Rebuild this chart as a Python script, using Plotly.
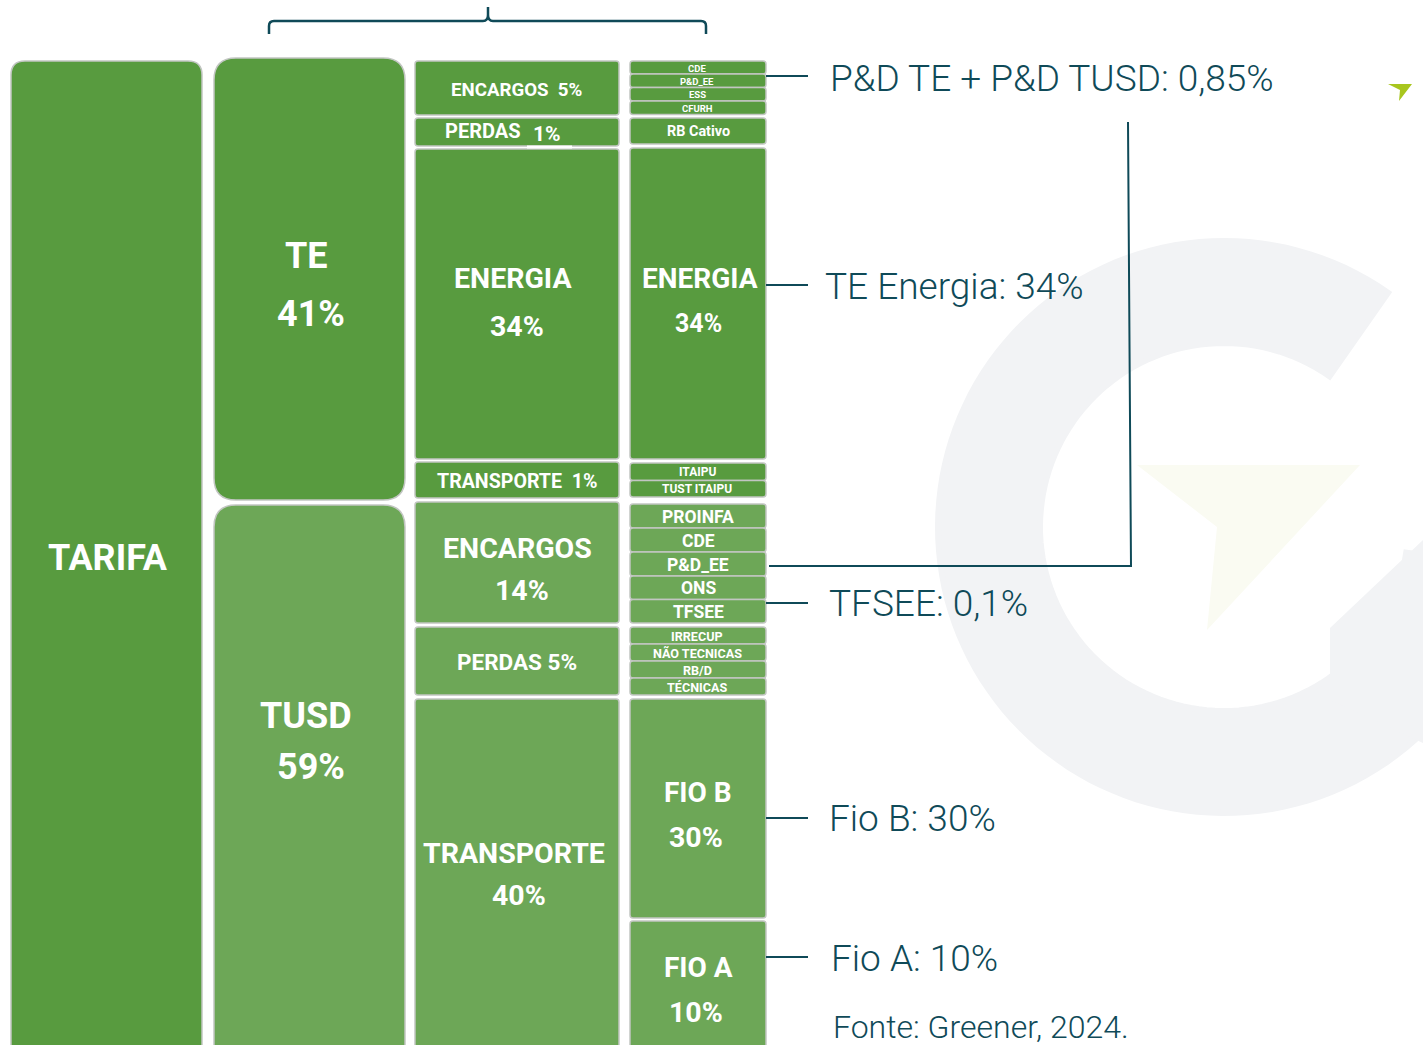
import numpy as np
import plotly.graph_objects as go

# ---------------- data ----------------
TARIFA_LABEL = "TARIFA"
L1_NAMES = ["TE", "TUSD"]
L1_SHARES = [41, 59]
L2_NAMES = ["ENCARGOS", "PERDAS", "ENERGIA", "TRANSPORTE", "ENCARGOS", "PERDAS", "TRANSPORTE"]
L2_SHARES = [5, 1, 34, 1, 14, 5, 40]
L2_GROUP = ["TE", "TE", "TE", "TE", "TUSD", "TUSD", "TUSD"]
L3_NAMES = ["CDE", "P&D_EE", "ESS", "CFURH", "RB Cativo", "ENERGIA", "ITAIPU", "TUST ITAIPU",
            "PROINFA", "CDE", "P&D_EE", "ONS", "TFSEE",
            "IRRECUP", "NÃO TECNICAS", "RB/D", "TÉCNICAS", "FIO B", "FIO A"]
L3_SHARES = [None, None, None, None, None, 34, None, None,
             None, None, None, None, None,
             None, None, None, None, 30, 10]
L3_GROUP = ["TE"] * 8 + ["TUSD"] * 11
CALLOUT_NAMES = ["P&D TE + P&D TUSD", "TE Energia", "TFSEE", "Fio B", "Fio A"]
CALLOUT_VALUES = ["0,85%", "34%", "0,1%", "30%", "10%"]
SOURCE = "Fonte: Greener, 2024."

# ---------------- layout / style ----------------
W, H = 1423, 1045
DARK = "#589B3F"
LIGHT = "#6DA757"
EDGE = "#C2C6C2"
TEAL = "#0F4A58"
GFILL = "#F2F3F5"
COLOR = {"TE": DARK, "TUSD": LIGHT}

COL0 = (11, 202)
COL1 = (214, 405)
COL2 = (415, 619)
COL3 = (630, 766)
L1_ROWS = [(58, 500), (505, 1070)]
L2_ROWS = [(61, 115), (118, 146), (149, 459), (462, 498), (502, 623), (627, 695), (699, 1070)]
L3_ROWS = [(61, 74), (74, 87.5), (87.5, 101), (101, 114.5), (118, 144), (148, 459), (463, 480.5), (480.5, 497),
           (504, 528), (528, 552), (552, 576), (576, 599.5), (599.5, 623),
           (627, 644), (644, 661), (661, 678), (678, 695), (699, 918), (921, 1070)]
L3_FONT = [9.5, 9.5, 9.5, 9.5, 14.4, 28, 12, 12, 17.5, 17.5, 17.5, 17.5, 17.5, 12.6, 12.6, 12.6, 12.6, 28, 28]
CALLOUT_Y = [78, 286, 603, 818, 958]
CALLOUT_TX = [828, 823, 827, 827, 829]
CALLOUT_LINE_Y = [76, 285, 603, 818, 957]
BIG = 36
MID = 28.5


def rrect(x0, y0, x1, y1, r):
    return (f"M {x0+r},{y0} L {x1-r},{y0} Q {x1},{y0} {x1},{y0+r} "
            f"L {x1},{y1-r} Q {x1},{y1} {x1-r},{y1} L {x0+r},{y1} "
            f"Q {x0},{y1} {x0},{y1-r} L {x0},{y0+r} Q {x0},{y0} {x0+r},{y0} Z")


shapes = []
ann = []


def box(x0, y0, x1, y1, r, color):
    shapes.append(dict(type="path", path=rrect(x0, y0, x1, y1, r), xref="x", yref="y",
                       fillcolor=color, line=dict(color=EDGE, width=1.5), layer="above"))


def txt(x, y, s, size, color="white", weight=700, xanchor="center"):
    ann.append(dict(x=x, y=y, xref="x", yref="y", text=s, showarrow=False, xanchor=xanchor,
                    yanchor="middle", font=dict(family="Roboto", size=size, color=color, weight=weight)))


# ---- watermark G ----
cx, cy, R, r = 1224, 527, 286, 184
angs = np.linspace(np.deg2rad(55), np.deg2rad(360 - 8), 120)
outer = [(cx + R * np.cos(a), cy - R * np.sin(a)) for a in angs]
inner = [(cx + r * np.cos(a), cy - r * np.sin(a)) for a in angs[::-1]]
pts = outer + inner
gpath = "M " + " L ".join(f"{x:.1f},{y:.1f}" for x, y in pts) + " Z"
shapes.append(dict(type="path", path=gpath, xref="x", yref="y", fillcolor=GFILL,
                   line=dict(color=GFILL, width=6), layer="below"))
shapes.append(dict(type="path", path="M 1330,628 L 1460,505 L 1460,760 L 1330,700 Z",
                   xref="x", yref="y", fillcolor=GFILL, line=dict(width=0), layer="below"))
shapes.append(dict(type="path", path="M 1137,465 L 1360,465 L 1207,630 L 1217,527 Z",
                   xref="x", yref="y", fillcolor="#FAFBF2", line=dict(width=0), layer="below"))
# small logo arrow top-right
shapes.append(dict(type="path", path="M 1388,84 L 1412,84 L 1399,101 L 1400,90 Z",
                   xref="x", yref="y", fillcolor="#A8C61E", line=dict(width=0), layer="below"))

# ---- boxes ----
box(COL0[0], 61, COL0[1], 1070, 14, DARK)
txt(sum(COL0) / 2 + 1, 558, TARIFA_LABEL, BIG)

l1_text_y = [(256, 314), (716, 767)]
for name, share, (y0, y1), (ty1, ty2) in zip(L1_NAMES, L1_SHARES, L1_ROWS, l1_text_y):
    box(COL1[0], y0, COL1[1], y1, 22, COLOR[name])
    txt(306, ty1, name, BIG)
    txt(311, ty2, f"{share}%", BIG)

for i, (name, share, grp, (y0, y1)) in enumerate(zip(L2_NAMES, L2_SHARES, L2_GROUP, L2_ROWS)):
    box(COL2[0], y0, COL2[1], y1, 3, COLOR[grp])

# column 2 labels
txt(516, 90, f"{L2_NAMES[0]}  {L2_SHARES[0]}%", 18.7)
txt(483, 131, L2_NAMES[1], 20)
txt(547, 134, f"{L2_SHARES[1]}%", 21)
shapes.append(dict(type="line", x0=527, x1=572, y0=147, y1=147, xref="x", yref="y",
                   line=dict(color="white", width=3), layer="above"))
txt(513, 278, L2_NAMES[2], MID)
txt(517, 326, f"{L2_SHARES[2]}%", MID)
txt(517, 481, f"{L2_NAMES[3]}  {L2_SHARES[3]}%", 19.6)
txt(517, 548, L2_NAMES[4], MID)
txt(522, 590, f"{L2_SHARES[4]}%", MID)
txt(517, 662, f"{L2_NAMES[5]} {L2_SHARES[5]}%", 22.5)
txt(514, 853, L2_NAMES[6], MID)
txt(519, 895, f"{L2_SHARES[6]}%", MID)

# column 3
for name, share, grp, (y0, y1), fs in zip(L3_NAMES, L3_SHARES, L3_GROUP, L3_ROWS, L3_FONT):
    box(COL3[0], y0, COL3[1], y1, 3, COLOR[grp])
    xc = 698 if fs > 13 else 697
    if share is None:
        txt(xc, (y0 + y1) / 2 + 0.5, name, fs)
    else:
        if name == "ENERGIA":
            txt(700, 278, name, fs)
            txt(698, 323, f"{share}%", 25)
        elif name == "FIO B":
            txt(698, 792, name, fs)
            txt(696, 837, f"{share}%", MID)
        else:
            txt(698, 967, name, fs)
            txt(696, 1012, f"{share}%", MID)

# ---- callouts ----
for name, val, ty, tx, ly in zip(CALLOUT_NAMES, CALLOUT_VALUES, CALLOUT_Y, CALLOUT_TX, CALLOUT_LINE_Y):
    shapes.append(dict(type="line", x0=766, x1=808, y0=ly, y1=ly, xref="x", yref="y",
                       line=dict(color=TEAL, width=2)))
    txt(tx, ty, f"{name}: {val}", 37, color=TEAL, weight=300, xanchor="left")

txt(831, 1027, SOURCE, 32, color=TEAL, weight=300, xanchor="left")

# connector from TUSD P&D_EE up to P&D callout
shapes.append(dict(type="path", path="M 1128,122 L 1131,566 L 769,566", xref="x", yref="y",
                   line=dict(color=TEAL, width=2)))
# top bracket
shapes.append(dict(type="path",
                   path="M 269,34 L 269,26 Q 269,21 274,21 L 483,21 Q 488,21 488,15 L 488,7 "
                        "M 488,15 Q 488,21 493,21 L 701,21 Q 706,21 706,26 L 706,34",
                   xref="x", yref="y", line=dict(color=TEAL, width=2.5)))

fig = go.Figure()
fig.add_trace(go.Scatter(x=[0, W], y=[0, H], mode="markers", marker=dict(opacity=0),
                         hoverinfo="skip", showlegend=False))
fig.update_layout(
    width=W, height=H, margin=dict(l=0, r=0, t=0, b=0),
    paper_bgcolor="white", plot_bgcolor="white",
    xaxis=dict(range=[0, W], visible=False, fixedrange=True),
    yaxis=dict(range=[H, 0], visible=False, fixedrange=True),
    shapes=shapes, annotations=ann, showlegend=False,
)
fig.write_html("out.html", config={"displayModeBar": False},
               post_script="document.body.style.margin='0';document.body.style.overflow='hidden';")
